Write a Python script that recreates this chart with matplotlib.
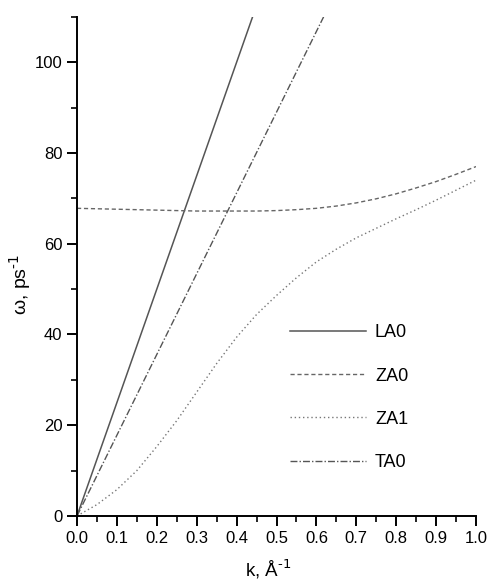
import matplotlib
matplotlib.use("Agg")
import matplotlib.pyplot as plt
from matplotlib.ticker import MultipleLocator, FormatStrFormatter

plt.rcParams['font.family'] = ['Liberation Sans', 'DejaVu Sans']

# dispersion branches
k = [0.0, 0.05, 0.1, 0.15, 0.2, 0.25, 0.3, 0.35, 0.4, 0.45, 0.5,
     0.55, 0.6, 0.65, 0.7, 0.75, 0.8, 0.85, 0.9, 0.95, 1.0]
la0_k = [0.0, 0.44]
la0_w = [0.0, 110.0]
ta0_k = [0.0, 0.618]
ta0_w = [0.0, 110.0]
za0_w = [67.8, 67.7, 67.6, 67.5, 67.4, 67.3, 67.2, 67.2, 67.2, 67.2, 67.3,
         67.5, 67.8, 68.3, 69.0, 69.9, 71.0, 72.3, 73.7, 75.3, 77.0]
za1_w = [0.0, 2.5, 5.8, 10.0, 15.3, 21.0, 27.3, 33.6, 39.4, 44.4, 48.6,
         52.5, 56.0, 58.8, 61.3, 63.4, 65.5, 67.5, 69.6, 71.8, 74.0]

fig = plt.figure(figsize=(4.89, 5.81), dpi=100)
ax = fig.add_axes([0.1575, 0.112, 0.816, 0.859])

ax.plot(la0_k, la0_w, color='#555555', lw=1.1, ls='-', label='LA0')
ax.plot(k, za0_w, color='#666666', lw=1.0, ls=(0, (3, 2)), label='ZA0')
ax.plot(k, za1_w, color='#777777', lw=1.0, ls=(0, (1, 2)), label='ZA1')
ax.plot(ta0_k, ta0_w, color='#555555', lw=1.0, ls=(0, (5, 1.5, 1, 1.5)), label='TA0')

ax.set_xlim(0, 1.0)
ax.set_ylim(0, 110)
ax.xaxis.set_major_locator(MultipleLocator(0.1))
ax.xaxis.set_minor_locator(MultipleLocator(0.05))
ax.yaxis.set_major_locator(MultipleLocator(20))
ax.yaxis.set_minor_locator(MultipleLocator(10))
ax.xaxis.set_major_formatter(FormatStrFormatter('%.1f'))

for s in ['top', 'right']:
    ax.spines[s].set_visible(False)
for s in ['left', 'bottom']:
    ax.spines[s].set_linewidth(1.4)
ax.tick_params(which='major', direction='out', length=7, width=1.4, labelsize=12)
ax.tick_params(which='minor', direction='out', length=4, width=1.2)

ax.set_xlabel('k, Å$^{\\text{-1}}$', fontsize=13.5)
ax.set_ylabel('ω, ps$^{\\text{-1}}$', fontsize=14)
ax.xaxis.set_label_coords(0.48, -0.084)
ax.yaxis.set_label_coords(-0.11, 0.463)

ax.legend(loc='center left', bbox_to_anchor=(0.534, 0.237), frameon=False,
          fontsize=13, handlelength=4.2, handletextpad=0.5, labelspacing=1.45,
          borderpad=0, borderaxespad=0)

fig.savefig('out.png', dpi=100)
